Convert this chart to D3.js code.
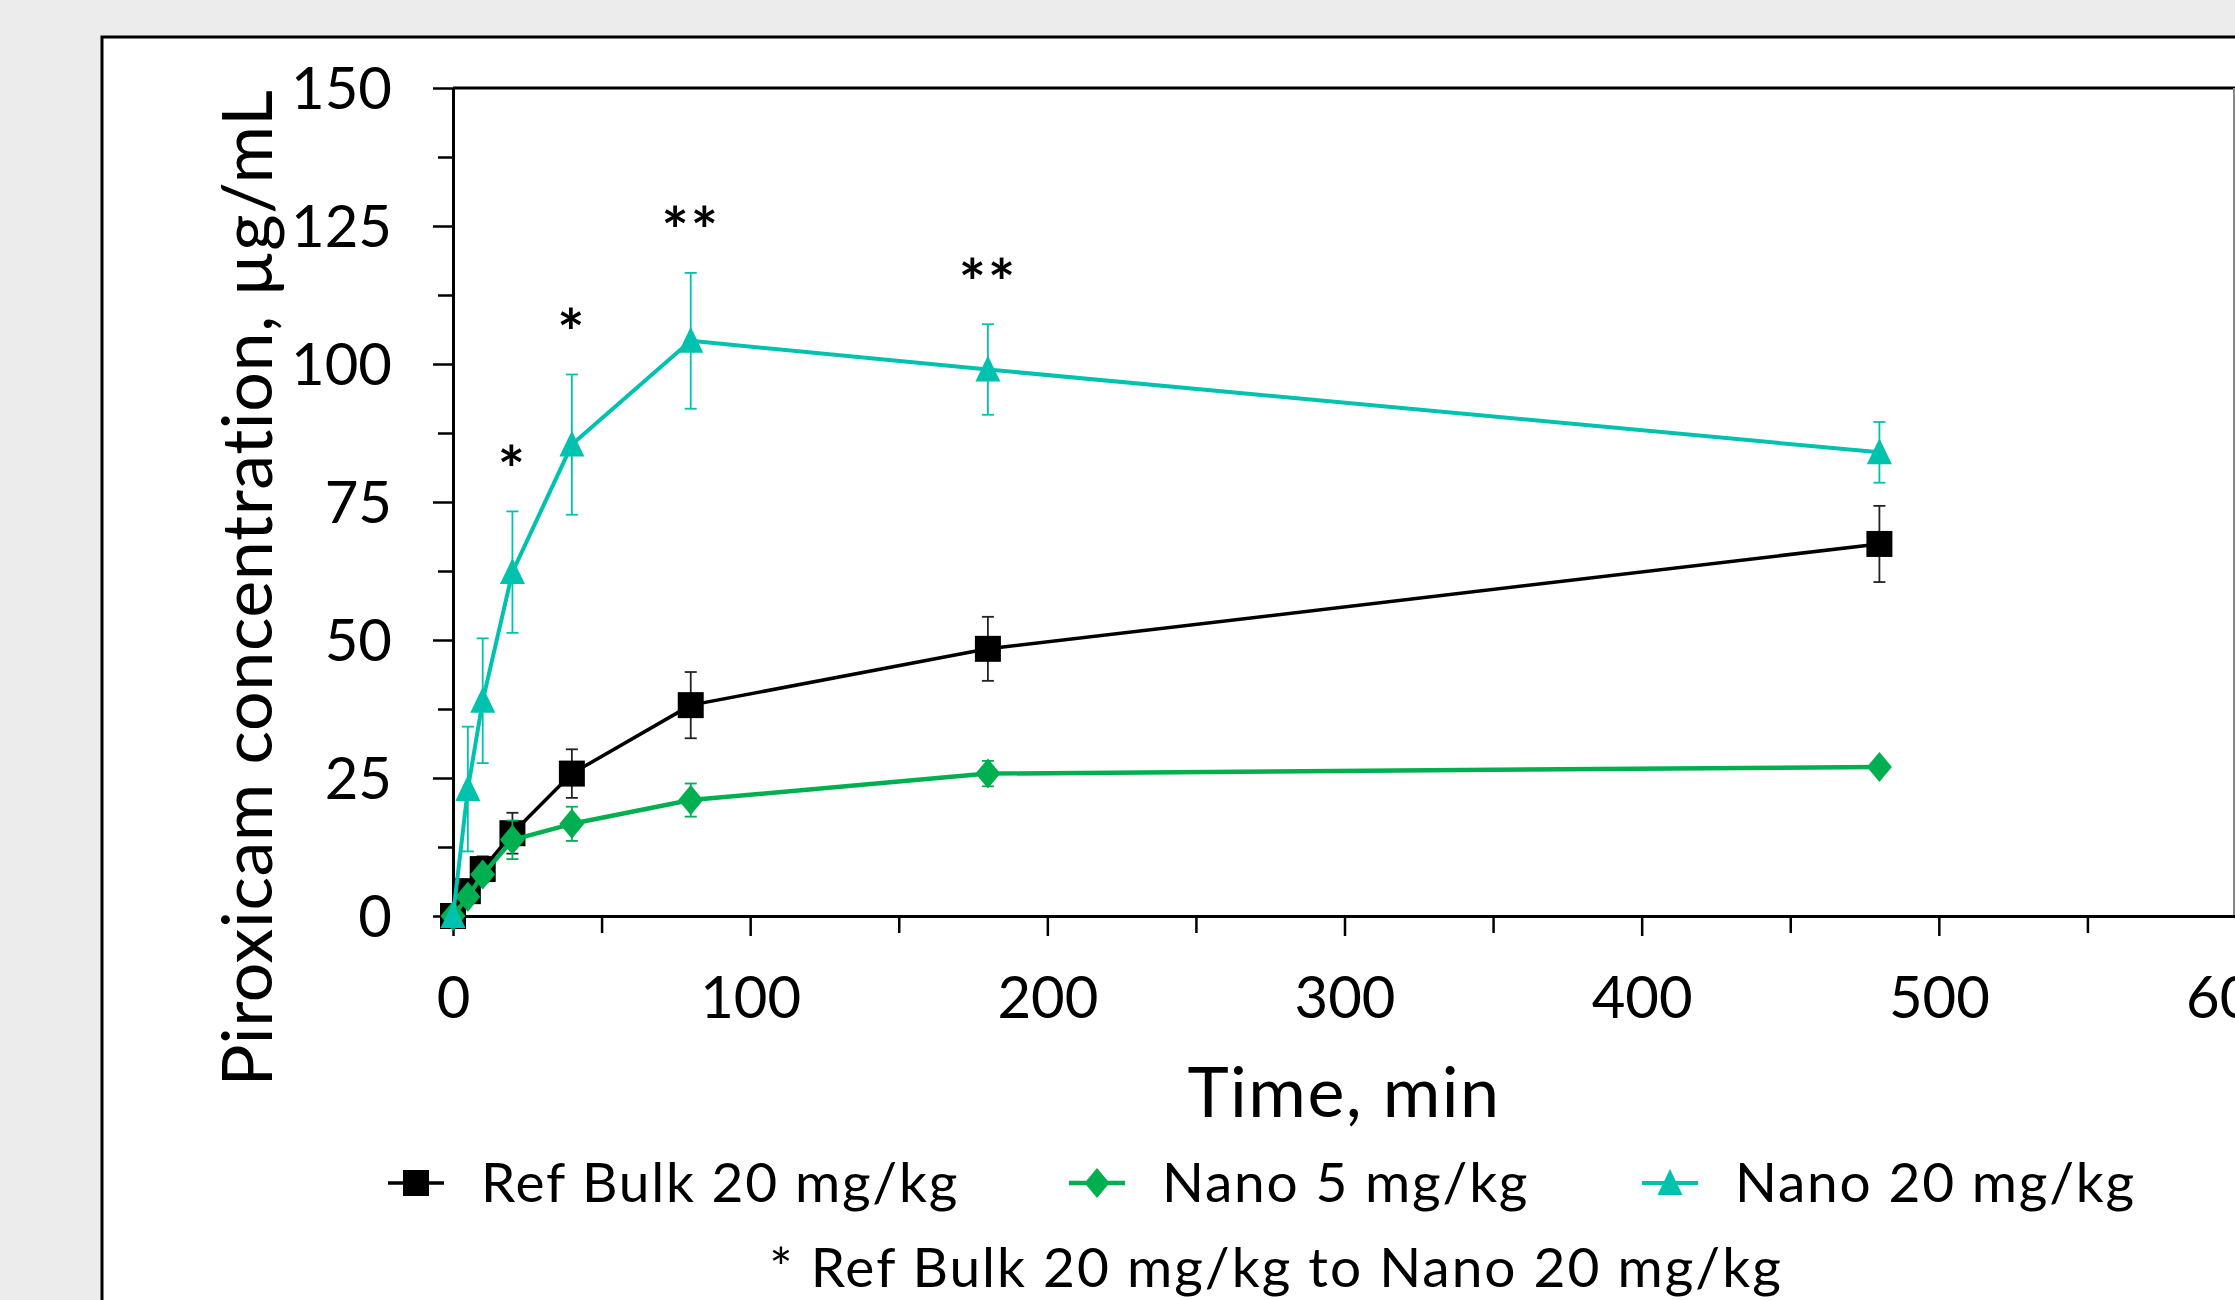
<!DOCTYPE html>
<html>
<head>
<meta charset="utf-8">
<script src="https://cdn.jsdelivr.net/npm/d3@7"></script>
<style>
  html, body { margin: 0; padding: 0; background: #ececec; }
  svg { display: block; font-family: "Lato", "Open Sans", sans-serif; }
</style>
</head>
<body>
<script>
// ---------------- DATA ----------------
const times = [0, 5, 10, 20, 40, 80, 180, 480];

const refBulk    = [0, 4.5, 8.5, 15.0, 25.8, 38.2, 48.4, 67.4];
const refBulkErr = [0, 1.5, 2.3, 3.7, 4.4, 6.0, 5.8, 6.9];

const nano5      = [0, 3.5, 7.5, 13.8, 16.7, 21.0, 25.8, 27.0];
const nano5Err   = [0, 1.0, 1.2, 3.5, 3.1, 3.0, 2.3, 0.5];

const nano20     = [0, 23.0, 39.0, 62.3, 85.4, 104.2, 99.0, 84.0];
const nano20Err  = [0, 11.3, 11.3, 11.0, 12.7, 12.3, 8.2, 5.5];

const seriesNames = ["Ref Bulk 20 mg/kg", "Nano 5 mg/kg", "Nano 20 mg/kg"];

const xTicks = [0, 100, 200, 300, 400, 500, 600];
const xMinorTicks = [50, 150, 250, 350, 450, 550];
const yTicks = [0, 25, 50, 75, 100, 125, 150];
const yMinorTicks = [12.5, 37.5, 62.5, 87.5, 112.5, 137.5];

const sigTimes  = [20, 40, 80, 180];
const sigLabels = ["*", "*", "**", "**"];

const xTitle = "Time, min";
const yTitle = "Piroxicam concentration, µg/mL";
const footnote = "* Ref Bulk 20 mg/kg to Nano 20 mg/kg";

// ---------------- LAYOUT ----------------
const W = 2235, H = 1300;
const svg = d3.select("body").append("svg").attr("width", W).attr("height", H);

svg.append("rect").attr("width", W).attr("height", H).attr("fill", "#ececec");
// outer chart box
svg.append("rect").attr("x", 102).attr("y", 37).attr("width", 2300).attr("height", 1400)
  .attr("fill", "#fff").attr("stroke", "#000").attr("stroke-width", 3);

const x = d3.scaleLinear().domain([0, 600]).range([453, 2236]);
const y = d3.scaleLinear().domain([0, 150]).range([916, 88]);

const colors = ["#000000", "#00b050", "#00c2ae"];
const lineW = [3.5, 4.5, 4];
const errColors = ["#222222", "#00b050", "#00c2ae"];

// plot frame (top & right)
svg.append("line").attr("x1", x(0)).attr("x2", x(600)).attr("y1", y(150)).attr("y2", y(150))
  .attr("stroke", "#000").attr("stroke-width", 3);
svg.append("line").attr("x1", 2234).attr("x2", 2234).attr("y1", y(150)).attr("y2", y(0))
  .attr("stroke", "#888").attr("stroke-width", 2);

// axes
const fontTick = 58;
const xAxis = svg.append("g").attr("transform", `translate(0,${y(0)})`)
  .call(d3.axisBottom(x).tickValues(xTicks).tickSize(20).tickSizeOuter(0).tickFormat(d3.format("d")));
svg.append("g").attr("transform", `translate(0,${y(0)})`)
  .call(d3.axisBottom(x).tickValues(xMinorTicks).tickSize(17).tickSizeOuter(0).tickFormat(""))
  .select(".domain").remove();
xAxis.selectAll("text").attr("y", 102).attr("dy", 0)
  .attr("font-size", fontTick).attr("fill", "#000").attr("font-family", "Lato");

const yAxis = svg.append("g").attr("transform", `translate(${x(0)},0)`)
  .call(d3.axisLeft(y).tickValues(yTicks).tickSize(20).tickSizeOuter(0));
svg.append("g").attr("transform", `translate(${x(0)},0)`)
  .call(d3.axisLeft(y).tickValues(yMinorTicks).tickSize(15).tickSizeOuter(0).tickFormat(""))
  .select(".domain").remove();
yAxis.selectAll("text").attr("x", -61).attr("dy", "0.36em")
  .attr("font-size", fontTick).attr("fill", "#000").attr("font-family", "Lato");

svg.selectAll(".domain").attr("stroke", "#000").attr("stroke-width", 3);
svg.selectAll(".tick line").attr("stroke", "#000").attr("stroke-width", 2.5);

// titles
svg.append("text").attr("x", 1344).attr("y", 1117).attr("text-anchor", "middle")
  .attr("font-size", 70).attr("letter-spacing", 1.5).attr("fill", "#000").text(xTitle);
svg.append("text").attr("transform", "translate(272,588) rotate(-90)").attr("text-anchor", "middle")
  .attr("font-size", 70).attr("letter-spacing", 0.6).attr("fill", "#000").text(yTitle);

// marker shapes
const markerPaths = [
  "M-13,-13H13V13H-13Z",                    // square
  "M0,-15L12.5,0L0,15L-12.5,0Z",            // diamond
  "M0,-14L12.5,12L-12.5,12Z"                // triangle
];

const series = [
  { name: seriesNames[0], vals: refBulk, errs: refBulkErr },
  { name: seriesNames[1], vals: nano5, errs: nano5Err },
  { name: seriesNames[2], vals: nano20, errs: nano20Err }
];

const line = d3.line().x(d => x(d.t)).y(d => y(d.v));

series.forEach((s, i) => {
  const pts = times.map((t, j) => ({ t, v: s.vals[j], e: s.errs[j] }));
  const g = svg.append("g");
  // error bars
  const eb = g.selectAll(".eb").data(pts.filter(p => p.e > 0)).join("g")
    .attr("stroke", errColors[i]).attr("stroke-width", 1.8);
  eb.append("line").attr("x1", p => x(p.t)).attr("x2", p => x(p.t))
    .attr("y1", p => y(p.v - p.e)).attr("y2", p => y(p.v + p.e));
  eb.append("line").attr("x1", p => x(p.t) - 6).attr("x2", p => x(p.t) + 6)
    .attr("y1", p => y(p.v + p.e)).attr("y2", p => y(p.v + p.e));
  eb.append("line").attr("x1", p => x(p.t) - 6).attr("x2", p => x(p.t) + 6)
    .attr("y1", p => y(p.v - p.e)).attr("y2", p => y(p.v - p.e));
  // line
  g.append("path").datum(pts).attr("d", line).attr("fill", "none")
    .attr("stroke", colors[i]).attr("stroke-width", lineW[i]).attr("stroke-linejoin", "round");
  // markers
  g.selectAll(".m").data(pts).join("path")
    .attr("d", markerPaths[i])
    .attr("transform", p => `translate(${x(p.t)},${y(p.v)})`)
    .attr("fill", colors[i]);
});

// significance stars (Nano 20 vs Ref Bulk)
sigTimes.forEach((t, k) => {
  const j = times.indexOf(t);
  const top = y(nano20[j] + nano20Err[j]);
  svg.append("text").attr("x", x(t)).attr("y", top - 57 + 0.6 * 64)
    .attr("text-anchor", "middle").attr("font-size", 64).attr("font-weight", 700).attr("fill", "#000")
    .attr("letter-spacing", 2)
    .text(sigLabels[k]);
});

// legend
const legX = [388, 1069, 1642];
const legY = 1183;
series.forEach((s, i) => {
  const g = svg.append("g").attr("transform", `translate(${legX[i]},${legY})`);
  g.append("line").attr("x1", 0).attr("x2", 56).attr("y1", 0).attr("y2", 0)
    .attr("stroke", colors[i]).attr("stroke-width", lineW[i]);
  g.append("path").attr("d", markerPaths[i]).attr("transform", "translate(28,0)").attr("fill", colors[i]);
  g.append("text").attr("x", 93).attr("y", 19).attr("font-size", 55).attr("letter-spacing", 1.8)
    .attr("fill", "#000").text(s.name);
});

svg.append("text").attr("x", 1276).attr("y", 1287).attr("text-anchor", "middle")
  .attr("font-size", 55).attr("letter-spacing", 2).attr("fill", "#000").text(footnote);
</script>
</body>
</html>
